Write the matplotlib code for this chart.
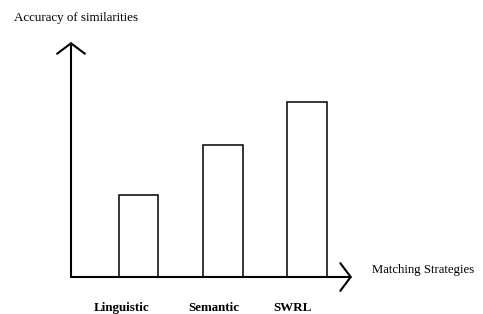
import matplotlib.pyplot as plt

strategies = ["Linguistic", "Semantic", "SWRL"]
accuracy = [82, 132, 175]  # arbitrary units

W, H = 483, 314
fig = plt.figure(figsize=(W / 100, H / 100), dpi=100)
plt.rcParams["font.family"] = ["Liberation Serif", "DejaVu Serif"]

# axes box: origin at (71, 277) px, arrow tips at x=352 and y=42
ax = fig.add_axes([71 / W, (H - 277) / H, (352 - 71) / W, (277 - 42) / H])
ax.set_xlim(-0.80, 2.53)
ax.set_ylim(0, 235)
for s in ax.spines.values():
    s.set_visible(False)
ax.set_xticks([])
ax.set_yticks([])
ax.patch.set_alpha(0)

ax.bar(range(len(strategies)), accuracy, width=0.47, color="white",
       edgecolor="black", linewidth=1.1, zorder=2)

arrow = dict(arrowstyle="->,head_length=0.75,head_width=1.0", lw=1.5,
             color="black", mutation_scale=10, shrinkA=0, shrinkB=0)
ax.annotate("", xy=(0, 1), xytext=(0, 0), xycoords="axes fraction",
            arrowprops=arrow, zorder=3)
ax.annotate("", xy=(1, 0), xytext=(0, 0), xycoords="axes fraction",
            arrowprops=arrow, zorder=3)

# category labels sit a bit left of the bar centres
label_x = [122, 214, 293]
for name, px in zip(strategies, label_x):
    fig.text(px / W, 1 - 308 / H, name, ha="center", va="center",
             fontsize=9.4, fontweight="bold")

fig.text(14 / W, 1 - 18 / H, "Accuracy of similarities", ha="left",
         va="center", fontsize=9.4)
fig.text(372 / W, 1 - 270 / H, "Matching Strategies", ha="left",
         va="center", fontsize=9.2)

fig.savefig("out.png", dpi=100)
